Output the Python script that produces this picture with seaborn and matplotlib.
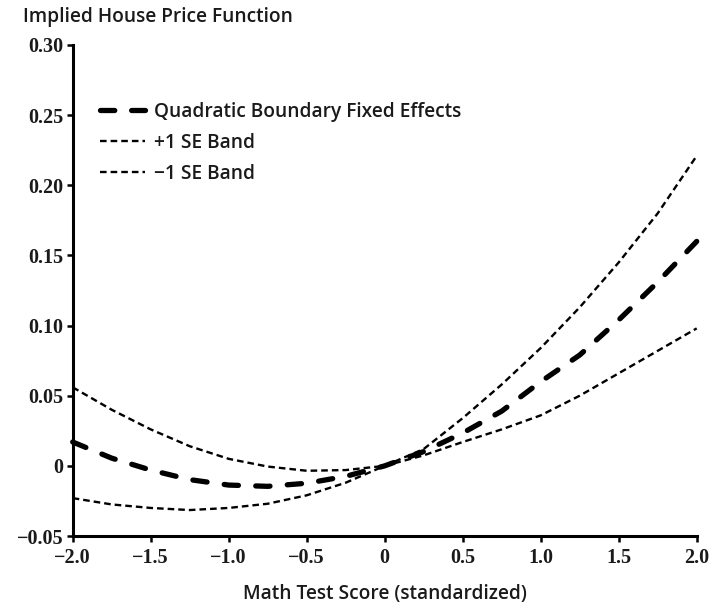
import matplotlib
matplotlib.use("Agg")
import matplotlib.pyplot as plt
import seaborn as sns
import pandas as pd
import numpy as np

# ---- data ----
x_vals = [-2.0, -1.75, -1.5, -1.25, -1.0, -0.75, -0.5, -0.25, 0.0,
          0.25, 0.5, 0.75, 1.0, 1.25, 1.5, 1.75, 2.0]
main_vals = [0.017, 0.0055, -0.003, -0.0098, -0.0137, -0.0146, -0.0124, -0.0075, 0.0,
             0.0102, 0.0234, 0.039, 0.060, 0.079, 0.104, 0.131, 0.160]
upper_vals = [0.056, 0.040, 0.026, 0.014, 0.005, -0.0005, -0.0035, -0.003, 0.0,
              0.012, 0.034, 0.058, 0.084, 0.113, 0.145, 0.180, 0.221]
lower_vals = [-0.023, -0.0275, -0.030, -0.0315, -0.030, -0.027, -0.021, -0.012, 0.0,
              0.0075, 0.017, 0.026, 0.036, 0.050, 0.066, 0.082, 0.098]

series_names = ["Quadratic Boundary Fixed Effects", "+1 SE Band", "\u22121 SE Band"]
x_ticks = [-2.0, -1.5, -1.0, -0.5, 0.0, 0.5, 1.0, 1.5, 2.0]
x_tick_labels = ["\u22122.0", "\u22121.5", "\u22121.0", "\u22120.5", "0", "0.5", "1.0", "1.5", "2.0"]
y_ticks = [-0.05, 0.0, 0.05, 0.10, 0.15, 0.20, 0.25, 0.30]
y_tick_labels = ["\u22120.05", "0", "0.05", "0.10", "0.15", "0.20", "0.25", "0.30"]
title_text = "Implied House Price Function"
x_label = "Math Test Score (standardized)"

sns.set_style("white")
plt.rcParams["font.family"] = ["Open Sans", "DejaVu Sans"]

DPI = 100
fig = plt.figure(figsize=(7.14, 6.13), dpi=DPI)
ax = fig.add_axes([72.7 / 714, (613 - 536) / 613, 624 / 714, 491 / 613])

df = pd.DataFrame({"x": x_vals * 3,
                   "y": main_vals + upper_vals + lower_vals,
                   "series": [series_names[0]] * len(x_vals)
                   + [series_names[1]] * len(x_vals)
                   + [series_names[2]] * len(x_vals)})

styles = {
    series_names[0]: dict(lw=3.8, dashes=(2.7, 3.2), cap="round"),
    series_names[1]: dict(lw=1.7, dashes=(2.8, 1.7), cap="butt"),
    series_names[2]: dict(lw=1.7, dashes=(2.8, 1.7), cap="butt"),
}
lines = {}
for name in series_names:
    sub = df[df["series"] == name]
    sns.lineplot(data=sub, x="x", y="y", ax=ax, color="black",
                 lw=styles[name]["lw"], label=name, sort=False)
    ln = ax.lines[-1]
    ln.set_dashes(styles[name]["dashes"])
    ln.set_dash_capstyle(styles[name]["cap"])
    ln.set_clip_on(False)
    lines[name] = ln

ax.set_xlim(-2.0, 2.0)
ax.set_ylim(-0.05, 0.30)
ax.set_xticks(x_ticks)
ax.set_xticklabels(x_tick_labels)
ax.set_yticks(y_ticks)
ax.set_yticklabels(y_tick_labels)
for lab in ax.get_xticklabels() + ax.get_yticklabels():
    lab.set_family(["Liberation Serif", "DejaVu Serif"])
    lab.set_fontweight("bold")
    lab.set_fontsize(14.5)
    lab.set_color("#1a1a1a")

ax.tick_params(axis="both", direction="out", length=4.5, width=1.8, color="black",
               bottom=True, left=True)
ax.tick_params(axis="x", pad=4)
ax.tick_params(axis="y", pad=2)
for s in ["top", "right"]:
    ax.spines[s].set_visible(False)
for s in ["left", "bottom"]:
    ax.spines[s].set_linewidth(2.2)
    ax.spines[s].set_color("black")
ax.grid(False)

ax.set_xlabel(x_label, fontsize=13.8, fontweight="semibold", color="#1a1a1a", labelpad=12)
ax.set_ylabel("")
fig.text(23 / 714, 1 - 17 / 613, title_text, fontsize=13.8, fontweight="semibold",
         color="#1a1a1a", ha="left", va="center")

leg = ax.legend(loc="upper left", bbox_to_anchor=(0.0437, 0.884), frameon=False,
                fontsize=13.8, handlelength=2.35, handletextpad=0.45,
                labelspacing=0.58, borderaxespad=0, borderpad=0)
for t in leg.get_texts():
    t.set_fontweight("semibold")
    t.set_color("#1a1a1a")

# stretch the gaps of the main curve slightly so that it starts and ends on a dash
fig.canvas.draw()
main_ln = lines[series_names[0]]
pts = main_ln.get_transform().transform(main_ln.get_xydata())
L = np.sum(np.hypot(np.diff(pts[:, 0]), np.diff(pts[:, 1])))
lw_px = styles[series_names[0]]["lw"] * DPI / 72.0
on_u, off_u = styles[series_names[0]]["dashes"]
on_px = on_u * lw_px
period_px = (on_u + off_u) * lw_px
n = max(1, int(round((L - on_px) / period_px)))
new_period = (L - on_px) / n
main_ln.set_linestyle((0, (on_u, (new_period - on_px) / lw_px)))
main_ln.set_dash_capstyle("round")

fig.savefig("out.png", dpi=DPI)
